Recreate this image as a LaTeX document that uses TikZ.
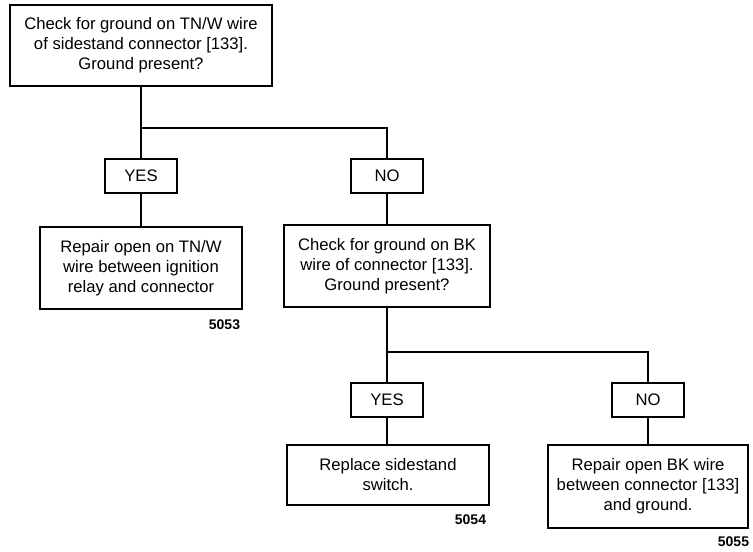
\documentclass[tikz,border=0pt]{standalone}
\usepackage{fontspec}
\setmainfont{Liberation Sans}
\begin{document}
\begin{tikzpicture}[x=0.75pt,y=-0.75pt, line width=1.4pt, line join=miter,
	box/.style={draw, align=center, inner sep=0pt, outer sep=0pt, font=\fontsize{12.5}{15}\selectfont},
	ans/.style={box, minimum width=54pt, minimum height=25pt},
	num/.style={anchor=east, inner sep=0pt, font=\fontsize{10.5}{12}\selectfont\bfseries}]
	\useasboundingbox (0,0) rectangle (753,551);
	% questions and answers
	\node[box, minimum width=196pt, minimum height=61pt] (q1) at (141,45.5) {Check for ground on TN/W wire\\of sidestand connector [133].\\Ground present?};
	\node[ans] (yes1) at (141,176) {YES};
	\node[ans] (no1) at (387,176) {NO};
	\node[box, minimum width=152pt, minimum height=62pt] (fix1) at (141,268) {Repair open on TN/W\\wire between ignition\\relay and connector};
	\node[box, minimum width=154pt, minimum height=62pt] (q2) at (387,266) {Check for ground on BK\\wire of connector [133].\\Ground present?};
	\node[ans] (yes2) at (387,400) {YES};
	\node[ans] (no2) at (648,400) {NO};
	\node[box, minimum width=151pt, minimum height=45pt] (fix2) at (388,475) {Replace sidestand\\switch.};
	\node[box, minimum width=150pt, minimum height=62pt] (fix3) at (648,486.5) {Repair open BK wire\\between connector [133]\\and ground.};
	% reference numbers
	\node[num] (n1) at (241,325) {5053};
	\node[num] (n2) at (487,519.5) {5054};
	\node[num] (n3) at (750,542) {5055};
	% connectors
	\coordinate (j1) at (141,128);
	\coordinate (j2) at (387,352);
	\draw (q1) -- (yes1) -- (fix1);
	\draw (j1) -| (no1) -- (q2);
	\draw (q2) -- (yes2) -- (yes2 |- fix2.north);
	\draw (j2) -| (no2) -- (fix3);
\end{tikzpicture}
\end{document}
